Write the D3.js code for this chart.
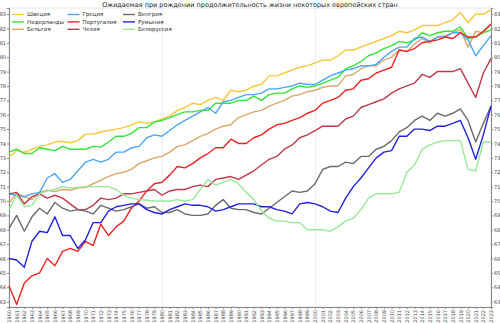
<!DOCTYPE html>
<html><head><meta charset="utf-8">
<script src="https://cdn.jsdelivr.net/npm/d3@7"></script>
<style>
html,body{margin:0;padding:0;background:#fff;}
svg{display:block;font-family:"DejaVu Sans",sans-serif;}
</style></head><body>
<svg id="c" width="500" height="323"></svg>
<script>
const title = "Ожидаемая при рождении продолжительность жизни некоторых европейских стран";
const years = d3.range(1960, 2024);
const yTicks = d3.range(63, 84);
const names = ["Швеция","Нидерланды","Бельгия","Греция","Португалия","Чехия","Венгрия","Румыния","Белоруссия"];
const colors = ["#f7c83a","#33e633","#d9a86a","#4da6f0","#ee2222","#c0394b","#6b6b6b","#2222dd","#99e899"];

const sweden = [73.06,73.5,73.4,73.6,73.8,73.9,74.1,74.15,74.05,74.2,74.65,74.65,74.8,74.9,75.0,75.1,75.3,75.5,75.4,75.5,75.7,75.9,76.3,76.5,76.8,76.7,77.0,77.2,77.0,77.7,77.6,77.7,78.0,78.1,78.7,78.7,78.9,79.1,79.3,79.4,79.6,79.8,79.8,80.1,80.5,80.5,80.7,80.9,81.1,81.3,81.5,81.8,81.7,81.9,82.2,82.2,82.2,82.4,82.6,83.1,82.4,83.0,83.0,83.3];
const netherlands = [73.4,73.6,73.3,73.3,73.7,73.6,73.5,73.8,73.6,73.6,73.6,73.8,73.75,74.1,74.5,74.5,74.7,75.1,75.1,75.5,75.6,75.8,76.0,76.2,76.2,76.3,76.3,76.8,76.8,76.8,77.0,77.0,77.3,77.0,77.4,77.5,77.5,77.8,78.0,77.9,78.0,78.2,78.4,78.6,79.2,79.4,79.7,80.1,80.3,80.6,80.8,81.1,81.0,81.2,81.7,81.5,81.7,81.8,81.8,82.1,81.3,81.4,81.7,81.9];
const belgium = [69.85,70.55,70.3,70.1,70.6,70.75,70.65,70.8,70.75,70.9,70.95,71.2,71.45,71.7,71.9,72.0,72.2,72.6,72.8,73.0,73.1,73.4,73.8,73.9,74.2,74.5,74.7,75.0,75.2,75.3,75.8,76.0,76.2,76.3,76.6,76.8,77.0,77.3,77.4,77.6,77.7,77.9,78.0,78.0,78.7,78.8,79.2,79.4,79.4,79.8,80.0,80.5,80.4,80.9,81.3,81.0,81.4,81.5,81.7,81.9,80.7,81.8,81.7,82.3];
const greece = [70.5,70.4,70.3,70.5,70.6,71.6,71.9,71.3,71.5,72.1,72.7,72.9,72.7,72.9,73.4,73.4,73.7,73.8,74.4,74.6,74.5,74.9,75.3,75.6,75.9,76.2,76.5,76.1,76.9,77.0,77.2,77.4,77.4,77.5,77.8,77.8,77.9,78.0,78.2,78.1,78.1,78.4,78.7,78.9,79.1,79.2,79.4,79.4,79.5,80.0,80.4,80.7,80.7,81.3,81.4,81.1,81.4,81.4,81.7,81.7,81.2,80.1,80.8,81.5];
const portugal = [64.1,62.8,64.3,64.8,65.0,66.0,65.5,66.5,66.7,66.5,67.2,66.9,68.4,67.6,68.2,68.6,69.5,70.0,70.7,71.2,71.3,71.8,72.4,72.3,72.6,73.0,73.3,73.7,73.7,74.3,74.0,74.0,74.4,74.6,75.0,75.3,75.4,75.6,75.8,76.1,76.3,76.8,77.0,77.2,77.7,77.8,78.4,78.5,78.9,79.1,79.3,80.5,80.4,80.6,81.0,81.1,81.2,81.4,81.3,81.7,81.4,81.4,81.8,82.3];
const czechia = [70.5,70.6,69.8,70.3,70.5,70.2,70.4,70.2,69.8,69.4,69.4,69.7,70.2,70.1,70.2,70.5,70.5,70.6,70.7,70.8,70.4,70.7,70.8,70.8,71.0,71.1,71.0,71.5,71.6,71.7,71.5,71.8,72.1,72.5,72.9,73.1,73.6,73.9,74.4,74.6,74.9,75.2,75.2,75.2,75.7,75.9,76.5,76.7,76.9,77.1,77.5,77.8,78.0,78.2,78.8,78.6,79.0,79.0,79.0,79.2,78.2,77.2,78.9,79.9];
const hungary = [68.1,69.0,67.9,68.9,69.5,69.1,69.9,69.5,69.3,69.4,69.3,69.1,69.7,69.5,69.3,69.4,69.6,69.8,69.5,69.6,69.2,69.2,69.4,69.1,69.0,69.0,69.1,69.7,70.1,69.5,69.4,69.4,69.2,69.1,69.5,69.9,70.3,70.7,70.6,70.7,71.2,72.2,72.4,72.4,72.7,72.6,73.1,73.1,73.6,73.8,74.2,74.8,75.1,75.6,75.9,75.6,76.1,75.9,76.1,76.4,75.6,74.1,75.4,76.6];
const romania = [66.0,65.9,65.4,67.2,67.9,67.8,68.9,67.6,67.6,66.7,67.3,68.5,68.5,69.3,69.6,69.7,69.8,69.8,69.4,69.2,69.1,69.4,69.6,69.8,69.7,69.7,69.6,69.3,69.4,69.6,69.8,69.8,69.8,69.6,69.6,69.4,69.3,69.1,69.8,69.9,69.8,69.6,69.3,69.2,70.2,71.0,71.6,72.3,73.0,73.4,73.5,74.5,74.5,75.0,75.0,74.9,75.2,75.2,75.4,75.6,74.4,72.9,74.6,76.6];
const belarus = [69.4,70.4,69.6,69.7,70.5,70.7,70.8,71.0,70.9,70.95,71.0,71.0,71.0,71.0,70.8,70.4,70.2,70.1,70.05,70.0,70.0,70.0,70.1,70.0,70.1,70.8,71.5,71.1,71.3,71.5,71.2,70.6,70.1,69.3,68.8,68.6,68.6,68.5,68.5,68.0,68.0,68.0,67.9,68.2,68.6,68.8,69.4,70.2,70.5,70.5,70.5,70.6,72.0,72.5,73.6,73.9,74.1,74.2,74.2,74.2,72.2,72.1,74.1,74.1];

const series = [sweden, netherlands, belgium, greece, portugal, czechia, hungary, romania, belarus];

const svg = d3.select("#c");
const L = 9, R = 491, T = 8, B = 307;
const x = d3.scaleLinear().domain([1960, 2023]).range([L, R]);
const y = d3.scaleLinear().domain([62.63, 83.42]).range([B, T]);

// frame
svg.append("rect").attr("x", L).attr("y", T).attr("width", R - L).attr("height", B - T)
  .attr("fill", "#fff").attr("stroke", "#e4e4e4").attr("stroke-width", 1);

// faint vertical grid
svg.append("g").selectAll("line").data([1980, 2000]).join("line")
  .attr("x1", d => Math.round(x(d)) + 0.5).attr("x2", d => Math.round(x(d)) + 0.5)
  .attr("y1", T).attr("y2", B).attr("stroke", "#eeeeee").attr("stroke-width", 1);

// axes
const yl = svg.append("g").attr("transform", `translate(${L},0)`)
  .call(d3.axisLeft(y).tickValues(yTicks).tickSize(2).tickPadding(1).tickFormat(d3.format("d")));
const yr = svg.append("g").attr("transform", `translate(${R},0)`)
  .call(d3.axisRight(y).tickValues(yTicks).tickSize(2).tickPadding(1).tickFormat(d3.format("d")));
const xa = svg.append("g").attr("transform", `translate(0,${B})`)
  .call(d3.axisBottom(x).tickValues(years).tickSize(2).tickFormat(d3.format("d")));
xa.selectAll("text").attr("transform", "rotate(-90)").attr("text-anchor", "end")
  .attr("x", -3).attr("y", 0).attr("dy", "0.32em");
[yl, yr, xa].forEach(g => {
  g.selectAll("text").attr("font-size", 5).attr("fill", "#444").attr("font-family", "DejaVu Sans, sans-serif");
  g.selectAll("line").attr("stroke", "#888");
  g.select(".domain").attr("stroke", "#888");
});

// lines
const line = d3.line().x((d, i) => x(years[i])).y(d => y(d));
svg.append("g").selectAll("path").data(series).join("path")
  .attr("d", line).attr("fill", "none")
  .attr("stroke", (d, i) => colors[i]).attr("stroke-width", 1.4).attr("stroke-linejoin", "round");

// title
svg.append("text").attr("x", 250).attr("y", 6.5).attr("text-anchor", "middle")
  .attr("font-size", 6.5).attr("fill", "#222").text(title);

// legend
const lg = svg.append("g");
names.forEach((n, i) => {
  const col = Math.floor(i / 3), row = i % 3;
  const lx = 12 + col * 55.5, ly = 14.5 + row * 7.4;
  lg.append("line").attr("x1", lx).attr("x2", lx + 12).attr("y1", ly).attr("y2", ly)
    .attr("stroke", colors[i]).attr("stroke-width", 1.4);
  lg.append("text").attr("x", lx + 15).attr("y", ly).attr("dy", "0.35em")
    .attr("font-size", 5.5).attr("fill", "#333").text(n);
});
</script>
</body></html>
